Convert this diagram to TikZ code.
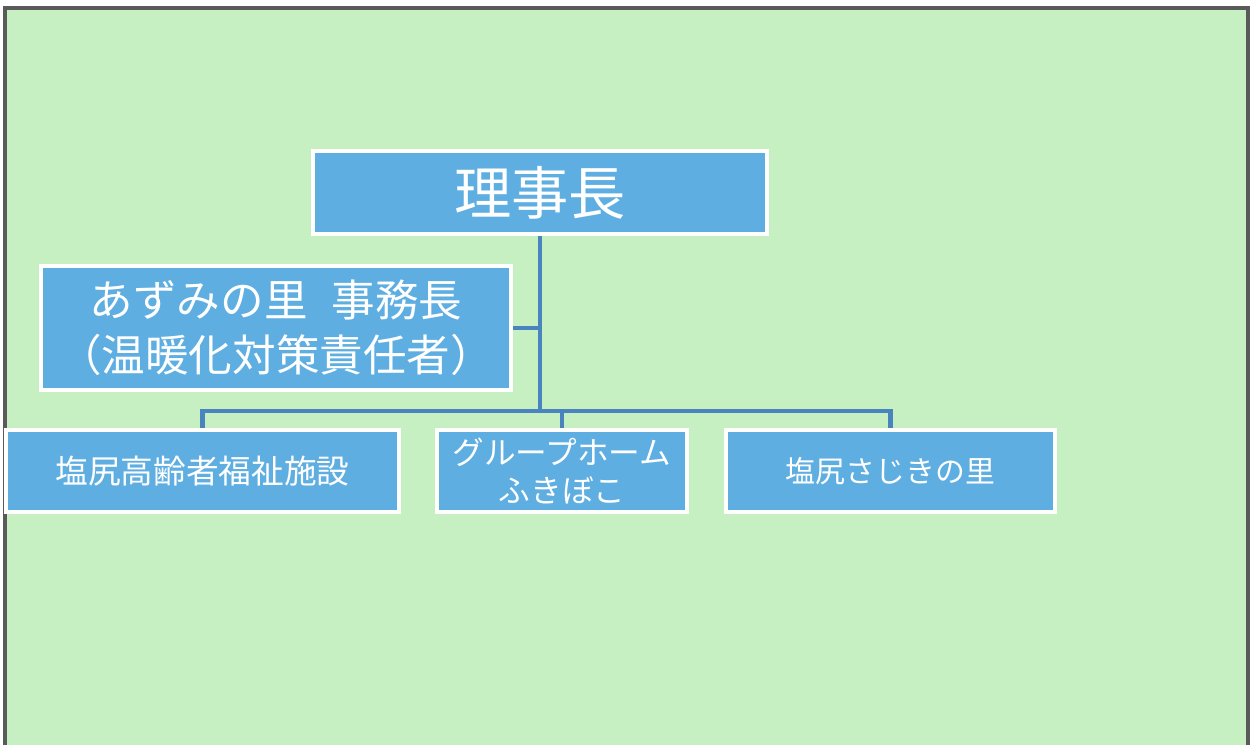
\documentclass[tikz,border=0pt]{standalone}
\usepackage{fontspec}
\newfontfamily\jpfont{Noto Sans CJK JP}
\usetikzlibrary{positioning}
\definecolor{sheet}{HTML}{C6F0C2}
\definecolor{boxblue}{HTML}{5EAEE2}
\definecolor{linkblue}{HTML}{4A84BF}
\definecolor{framegray}{HTML}{5A5A5A}
\tikzset{
	unit/.style={
		draw=white, line width=1.1pt, fill=boxblue, text=white,
		inner sep=0pt, outer sep=0pt, align=center
	},
	unit size/.style 2 args={minimum width=#1cm, minimum height=#2cm},
	big text/.style={font=\jpfont\fontsize{16.3pt}{19pt}\selectfont},
	mid text/.style={font=\jpfont\fontsize{12.4pt}{15.6pt}\selectfont},
	small text/.style={font=\jpfont\fontsize{#1}{11pt}\selectfont},
	small text/.default=9pt,
	link/.style={draw=linkblue, line width=1.3pt, shorten <=0.55pt}
}

\begin{document}
\begin{tikzpicture}
	\useasboundingbox (0,0) rectangle (12.51,-7.44);
	% sheet and frame
	\fill[white] (0,0) rectangle (12.51,-7.44);
	\filldraw[fill=sheet, draw=framegray, line width=1.4pt] (0.05,-0.08) rectangle (12.48,-7.70);

	\node[unit, unit size={4.54}{0.83}, big text] (chair) at (5.40,-1.925) {理事長};
	\node[unit, unit size={4.70}{1.24}, mid text] (chief) at (2.76,-3.28) {あずみの里\hspace{0.55em}事務長\\（温暖化対策責任者）};

	\node[unit, unit size={3.93}{0.82}, small text=9.3pt] (care) at (2.025,-4.71) {塩尻高齢者福祉施設};
	\node[unit, unit size={2.50}{0.82}, small text] (home) at (5.62,-4.71) {グループホーム\\ふきぼこ};
	\node[unit, unit size={3.29}{0.82}, small text=8.5pt] (sajiki) at (8.905,-4.71) {塩尻さじきの里};

	% connectors
	\coordinate (hub) at (5.40,-4.11);
	\draw[link] (chair.south) -- (hub);
	\draw[link] (chief.east) -- (chief.east -| hub);
	\draw[link, shorten >=0.55pt] (care.north) |- (hub) -| (sajiki.north);
	\draw[link] (home.north) -- (home.north |- hub);
\end{tikzpicture}
\end{document}
